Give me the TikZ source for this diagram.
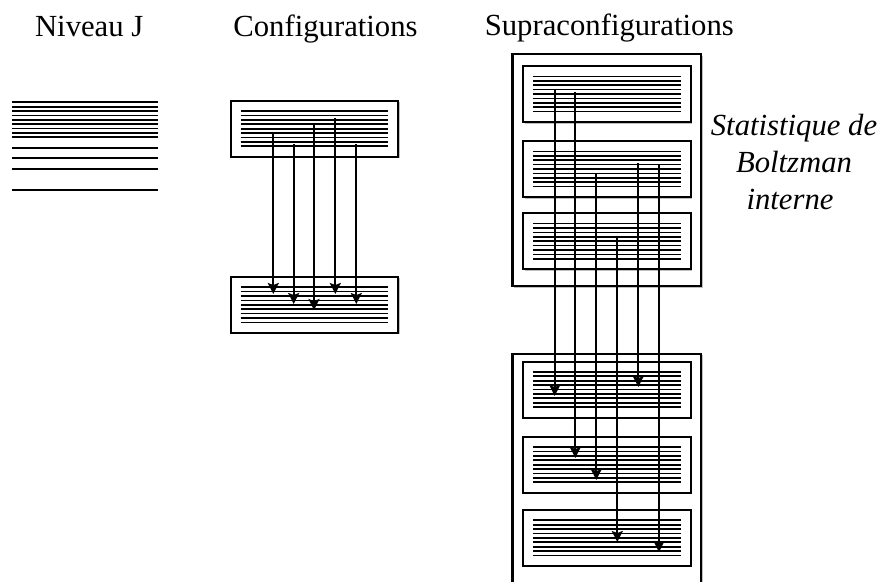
\documentclass[tikz,border=0pt]{standalone}
\usepackage{fontspec}
\setmainfont{Liberation Serif}
\usetikzlibrary{arrows.meta,shadows}

% nine levels inside a configuration box
\newcommand{\levelset}[1]{%
  \foreach \k in {0,...,8}
    \draw[lvl] ([xshift=11pt,yshift={(4-\k)*4.4pt}]#1.west) -- ([xshift=-11pt,yshift={(4-\k)*4.4pt}]#1.east);
}

\begin{document}
\begin{tikzpicture}[x=1pt, y=-1pt,
    title/.style={font=\fontsize{30.7}{36}\selectfont},
    ititle/.style={font=\fontsize{30.7}{36}\selectfont\itshape},
    lvl/.style={line width=1.7pt},
    cfgbox/.style={draw, line width=2pt, fill=white, inner sep=0pt,
      minimum width=167.6pt, minimum height=56pt,
      drop shadow={shadow xshift=1.5pt, shadow yshift=-1.5pt, opacity=0.25, fill=black}},
    supbox/.style={draw, line width=2.5pt, fill=white, inner sep=0pt,
      minimum width=188.7pt,
      drop shadow={shadow xshift=1.5pt, shadow yshift=-1.5pt, opacity=0.25, fill=black}},
    trans/.style={-{Stealth[length=11pt,width=11pt,inset=2pt]}, line width=1.8pt}]
        \clip (0,0) rectangle (886,581);

        % Titles
        \node[title, anchor=base] (tniv) at (89.2,36.7) {Niveau J};
        \node[title, anchor=base] (tcfg) at (325.5,36.7) {Configurations};
        \node[title, anchor=base] (tsup) at (609.3,35) {Supraconfigurations};

        % Levels J
        \foreach \y in {102.3,106.65,111,115.35,119.7,124.05,128.4,132.75,137.1,147.7,158.3,168.7,189.7}
            \draw[lvl] (12,\y) -- (158,\y);

        % Configurations
        \node[cfgbox] (ctop) at (314.5,128.7) {};
        \node[cfgbox] (cbot) at (314.5,304.8) {};
        \levelset{ctop}
        \levelset{cbot}

        % Supraconfigurations
        \node[supbox, minimum height=232pt] (suptop) at (606.65,170) {};
        \node[supbox, minimum height=260pt, anchor=north] (supbot) at (606.65,352.7) {};
        \foreach \n/\y in {s1/94, s2/169, s3/241.2, s4/389.5, s5/464.7, s6/537.9} {
            \node[cfgbox] (\n) at (606.9,\y) {};
            \levelset{\n}
        }

        % Transitions between configurations
        \foreach \x/\a/\b [count=\i] in {273.3/133.3/294, 293.7/144/304, 314/123.3/310, 335.3/118.3/294, 356.3/144/304} {
            \coordinate (ct\i) at (\x,\a);
            \coordinate (ch\i) at (\x,\b);
            \draw[trans] (ct\i) -- (ch\i);
        }

        % Transitions between supraconfigurations
        \foreach \x/\a/\b [count=\i] in {554.7/89/396, 575.3/92/458, 596.3/173.3/480, 617.3/235.7/542, 638.3/162.7/387, 659/164.7/552} {
            \coordinate (st\i) at (\x,\a);
            \coordinate (sh\i) at (\x,\b);
            \draw[trans] (st\i) -- (sh\i);
        }

        % Boltzmann statistics
        \node[ititle, anchor=base] (stat1) at (794,135) {Statistique de};
        \node[ititle, anchor=base] (stat2) at (794,172.5) {Boltzman};
        \node[ititle, anchor=base] (stat3) at (790,209.5) {interne};
\end{tikzpicture}
\end{document}
